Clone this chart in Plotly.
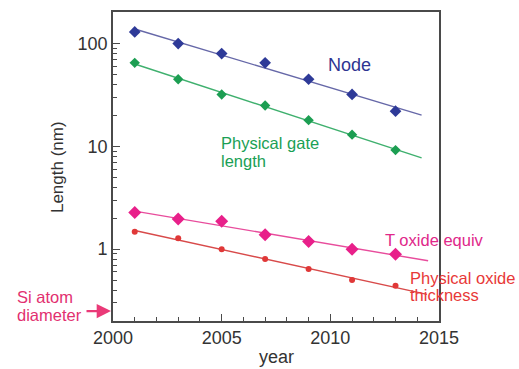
import numpy as np
import plotly.graph_objects as go

# ---- data (nm) ----
years = [2001, 2003, 2005, 2007, 2009, 2011, 2013]
node = [130, 100, 80, 65, 45, 32, 22]
gate_length = [65, 45, 32, 25, 18, 13, 9.2]
t_oxide_equiv = [2.27, 1.97, 1.87, 1.38, 1.19, 1.0, 0.89]
phys_oxide = [1.48, 1.28, 1.0, 0.80, 0.64, 0.50, 0.44]

# last year each trend line is carried out to
trend_end = {"node": 2014.2, "gate": 2014.2, "tox": 2014.5, "phys": 2014.45}

x_ticks = [2000, 2005, 2010, 2015]
y_ticks = [1, 10, 100]

FONT = "Liberation Sans, Arial, sans-serif"
AXIS_COLOR = "#4a4a4a"


def trend(xs, ys, x_end):
    """Exponential trend (straight line on a log axis) fitted to the points."""
    slope, icpt = np.polyfit(xs, np.log10(ys), 1)
    xx = np.array([xs[0], x_end])
    return xx, 10 ** (icpt + slope * xx)


series = [
    ("node", node, "#2e3a98", "#6668a8", "diamond", 9),
    ("gate", gate_length, "#1c9e52", "#3fb06e", "diamond", 8),
    ("tox", t_oxide_equiv, "#e8208a", "#e84c9c", "diamond", 10),
    ("phys", phys_oxide, "#e03838", "#d84a4a", "circle", 6),
]

fig = go.Figure()
for key, vals, mcol, lcol, sym, size in series:
    tx, ty = trend(years, vals, trend_end[key])
    fig.add_trace(go.Scatter(x=tx, y=ty, mode="lines",
                             line=dict(color=lcol, width=1.4),
                             showlegend=False, hoverinfo="skip"))
    fig.add_trace(go.Scatter(x=years, y=vals, mode="markers",
                             marker=dict(symbol=sym, size=size, color=mcol,
                                         line=dict(width=0)),
                             showlegend=False))

axis_common = dict(
    showline=True, linecolor=AXIS_COLOR, linewidth=1.6, mirror=True,
    ticks="inside", tickcolor=AXIS_COLOR, tickwidth=1.2, ticklen=7,
    showgrid=False, zeroline=False,
    tickfont=dict(family=FONT, size=18, color="#333333"),
)

fig.update_xaxes(range=[2000, 2015], tickmode="array", tickvals=x_ticks,
                 minor=dict(dtick=1, ticks="inside", ticklen=4,
                            tickcolor=AXIS_COLOR, tickwidth=1, showgrid=False),
                 **axis_common)
fig.update_yaxes(type="log", range=[np.log10(0.2), np.log10(203)],
                 tickmode="array", tickvals=y_ticks,
                 ticktext=[str(v) for v in y_ticks],
                 minor=dict(dtick="D1", ticks="inside", ticklen=4,
                            tickcolor=AXIS_COLOR, tickwidth=1, showgrid=False),
                 **axis_common)


def label(text, x, y, color, size=16.5, xanchor="left", xref="x"):
    fig.add_annotation(text=text, x=x, y=y, xref=xref, yref="y",
                       showarrow=False, xanchor=xanchor, yanchor="middle",
                       font=dict(family=FONT, size=size, color=color))


label("Node", 2010.9, 1.79, "#2e3592", size=18, xanchor="center")
label("Physical gate", 2004.9, 1.03, "#1aa055")
label("length", 2004.9, 0.86, "#1aa055")
label("T oxide equiv", 2012.42, 0.09, "#e0288a")
label("Physical oxide", 2013.58, -0.285, "#e83838")
label("thickness", 2013.58, -0.45, "#e83838")
label("Si atom", -0.30, -0.47, "#e23070", xref="paper")
label("diameter", -0.30, -0.645, "#e23070", xref="paper")

# arrow pointing at the Si atom diameter on the y axis
fig.add_annotation(x=0.0, y=np.log10(0.25), xref="paper", yref="y",
                   ax=-28, ay=0, axref="pixel", ayref="pixel", text="",
                   showarrow=True, arrowhead=2, arrowsize=1.3,
                   arrowwidth=2.2, arrowcolor="#ea3a78", standoff=2)

# axis titles
fig.add_annotation(text="Length (nm)", x=-0.172, y=0.498, xref="paper",
                   yref="paper", showarrow=False, textangle=-90,
                   xanchor="center", yanchor="middle",
                   font=dict(family=FONT, size=17, color="#333333"))
fig.add_annotation(text="year", x=0.5, y=-0.118, xref="paper", yref="paper",
                   showarrow=False, xanchor="center", yanchor="middle",
                   font=dict(family=FONT, size=18, color="#333333"))

fig.update_layout(
    width=519, height=369,
    margin=dict(l=113, r=80, t=10, b=48),
    plot_bgcolor="white", paper_bgcolor="white",
    showlegend=False,
)

fig.write_html("out.html")
